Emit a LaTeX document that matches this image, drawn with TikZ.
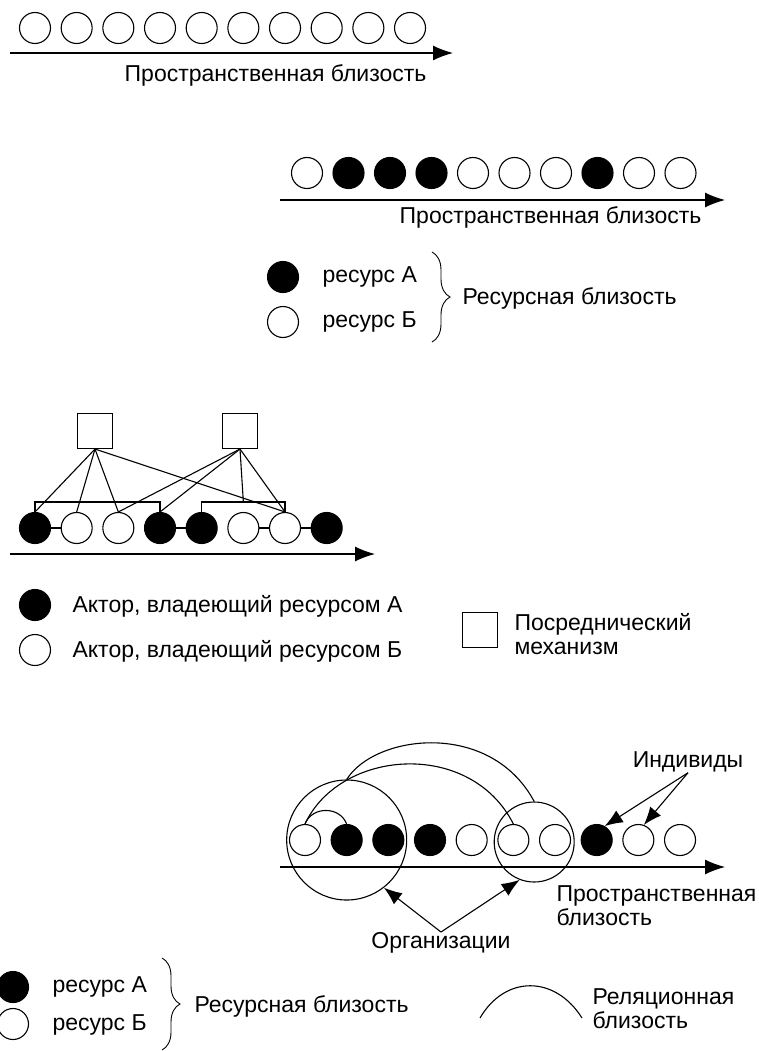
\documentclass[tikz,border=0pt]{standalone}
\usepackage{fontspec}
\setmainfont{Liberation Sans}
\usetikzlibrary{arrows.meta,decorations.pathreplacing,calc}
\tikzset{
  actA/.style={draw,circle,fill=black,minimum size=31pt,inner sep=0pt},
  actB/.style={draw,circle,fill=white,minimum size=31pt,inner sep=0pt},
  mech/.style={draw,rectangle,minimum size=35pt,inner sep=0pt},
  lbl/.style={inner sep=0pt,font=\fontsize{23}{24}\selectfont,align=left},
  axis/.style={-{Latex[length=20pt,width=15pt]}},
  ptr/.style={-{Latex[length=18pt,width=14pt]}},
  brc/.style={decorate,decoration={brace,amplitude=18pt}}
}
\begin{document}
\begin{tikzpicture}[x=1pt,y=-1pt,line width=1.1pt]
\useasboundingbox (0,0) rectangle (759,1051);

% spatial proximity
\foreach \i in {1,...,10}
\node[actB] (a\i) at ({35+41.67*(\i-1)},28) {};
\coordinate (a0) at (10,53);
\coordinate (aE) at (453,53);
\draw[axis] (a0) -- (aE);
\node[lbl,anchor=east] (aT) at (427,75) {Пространственная близость};

% resource proximity
\foreach \i/\s in {1/actB,2/actA,3/actA,4/actA,5/actB,6/actB,7/actB,8/actA,9/actB,10/actB}
\node[\s] (b\i) at ({307+41.5*(\i-1)},173) {};
\coordinate (b0) at (280,200);
\coordinate (bE) at (725,200);
\draw[axis] (b0) -- (bE);
\node[lbl,anchor=east] (bT) at (702,217) {Пространственная близость};

\node[actA] (bkA) at (283,277) {};
\node[actB] (bkB) at (283,322) {};
\node[lbl,anchor=west] (bkAT) at (322,277) {ресурс А};
\node[lbl,anchor=west] (bkBT) at (322,322) {ресурс Б};
\draw[brc,line width=0.9pt] (432,252) -- (432,342);
\node[lbl,anchor=west] (bkR) at (462,298) {Ресурсная близость};

% mediators
\node[mech] (m1) at (95,431) {};
\node[mech] (m2) at (240,431) {};
\foreach \i/\s in {1/actA,2/actB,3/actB,4/actA,5/actA,6/actB,7/actB,8/actA}
\node[\s] (c\i) at ({35+41.67*(\i-1)},528) {};
\foreach \u/\v in {1/2,4/5,6/7,7/8}
\draw (c\u) -- (c\v);
\draw (c1.north) -- ++(0,-10) -| (c4.north);
\draw (c5.north) -- ++(0,-10) -| (c7.north);
\foreach \t in {c1,c2,c3,c7}
\draw (m1.south) -- (\t.north);
\foreach \t in {c3,c4,c7}
\draw (m2.south) -- (\t.north);
\draw (m2.south) -- ([yshift=10pt]c6.north);
\coordinate (c0) at (10,554);
\coordinate (cE) at (375,554);
\draw[axis] (c0) -- (cE);

\node[actA] (ckA) at (35,605) {};
\node[actB] (ckB) at (35,650) {};
\node[lbl,anchor=west] (ckAT) at (72,606) {Актор, владеющий ресурсом А};
\node[lbl,anchor=west] (ckBT) at (72,651) {Актор, владеющий ресурсом Б};
\node[mech] (ckM) at (480,630) {};
\node[lbl,anchor=west] (ckMT) at (514,634) {Посреднический\\механизм};

% relational proximity
\foreach \i/\s in {1/actB,2/actA,3/actA,4/actA,5/actB,6/actB,7/actB,8/actA,9/actB,10/actB}
\node[\s] (q\i) at ({305+41.67*(\i-1)},840) {};
\node[draw,circle,minimum size=120pt,inner sep=0pt] (o1) at (q2) {};
\node[draw,circle,minimum size=80pt,inner sep=0pt] (o2) at ($(q6)!0.5!(q7)+(0,2)$) {};
\coordinate (q0) at (280,867);
\coordinate (qE) at (725,867);
\draw[axis] (q0) -- (qE);

\draw (q1.north) .. controls +(7,-18) and +(-7,-18) .. (q2.north);
\draw (q1.north) .. controls +(35,-75) and +(-43,-85) .. (q6.north);
\draw (o1.north) .. controls +(28,-45) and +(-44,-82) .. (o2.north);

\node[lbl] (ind) at (688,762) {Индивиды};
\draw[ptr] (ind.south) -- (q8.60);
\draw[ptr] (ind.south) -- (q9.70);

\node[lbl] (org) at (441,943) {Организации};
\draw[ptr] (org.north) -- (o1.-52);
\draw[ptr] (org.north) -- (o2.-111);

\node[lbl,anchor=west] (qT) at (556,906) {Пространственная\\близость};

\node[actA] (qkA) at (13,987) {};
\node[actB] (qkB) at (13,1024) {};
\node[lbl,anchor=west] (qkAT) at (52,987) {ресурс А};
\node[lbl,anchor=west] (qkBT) at (52,1025) {ресурс Б};
\draw[brc,line width=0.9pt] (162,958) -- (162,1050);
\node[lbl,anchor=west] (qkR) at (194,1006) {Ресурсная близость};
\draw (480,1018) .. controls (505,975) and (555,975) .. (582,1018);
\node[lbl,anchor=west] (qkL) at (592,1009) {Реляционная\\близость};
\end{tikzpicture}
\end{document}
